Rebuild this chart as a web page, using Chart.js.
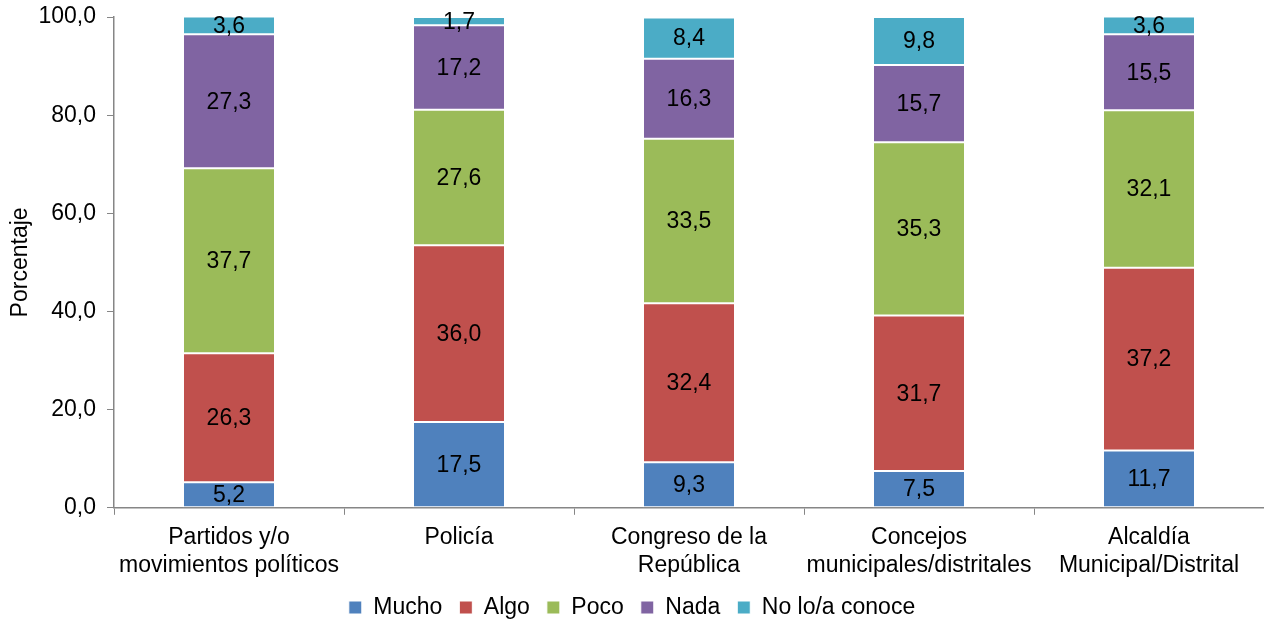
<!DOCTYPE html>
<html>
<head>
<meta charset="utf-8">
<script src="https://cdn.jsdelivr.net/npm/chart.js@4/dist/chart.umd.min.js"></script>
<style>
  html, body { margin: 0; padding: 0; background: #fff; }
  #wrap { width: 1264px; height: 621px; }
</style>
</head>
<body>
<div id="wrap"><canvas id="confChart"></canvas></div>
<script>
const categories = [
    ['Partidos y/o', 'movimientos políticos'],
    'Policía',
    ['Congreso de la', 'República'],
    ['Concejos', 'municipales/distritales'],
    ['Alcaldía', 'Municipal/Distrital']
];
const mucho = [5.2, 17.5, 9.3, 7.5, 11.7];
const algo = [26.3, 36.0, 32.4, 31.7, 37.2];
const poco = [37.7, 27.6, 33.5, 35.3, 32.1];
const nada = [27.3, 17.2, 16.3, 15.7, 15.5];
const noConoce = [3.6, 1.7, 8.4, 9.8, 3.6];
const yTicks = [0, 20, 40, 60, 80, 100];

const FONT = '"Liberation Sans", Arial, sans-serif';
const SIZE = 23;
const fmt = v => v.toFixed(1).replace('.', ',');

// draw the value inside each segment
const segmentLabels = {
    id: 'segmentLabels',
    afterDatasetsDraw(chart) {
        const ctx = chart.ctx;
        ctx.save();
        ctx.font = SIZE + 'px ' + FONT;
        ctx.fillStyle = '#000';
        ctx.textAlign = 'center';
        ctx.textBaseline = 'middle';
        chart.data.datasets.forEach((ds, i) => {
            chart.getDatasetMeta(i).data.forEach((bar, j) => {
                const mid = (bar.y + bar.base) / 2;
                ctx.fillText(fmt(ds.data[j]), bar.x, mid + 1);
            });
        });
        ctx.restore();
    }
};

const ctx = document.getElementById('confChart').getContext('2d');
const confChart = new Chart(ctx, {
    type: 'bar',
    data: {
        labels: categories,
        datasets: [
            { label: 'Mucho', data: mucho, backgroundColor: '#4F81BD' },
            { label: 'Algo', data: algo, backgroundColor: '#C0504D' },
            { label: 'Poco', data: poco, backgroundColor: '#9BBB59' },
            { label: 'Nada', data: nada, backgroundColor: '#8064A2' },
            { label: 'No lo/a conoce', data: noConoce, backgroundColor: '#4BACC6' }
        ].map(d => Object.assign(d, {
            borderColor: '#ffffff',
            borderWidth: 1,
            borderSkipped: false,
            categoryPercentage: 1,
            barPercentage: 0.4
        }))
    },
    options: {
        responsive: true,
        maintainAspectRatio: false,
        animation: false,
        layout: { padding: { top: 1, left: 0, right: 0, bottom: -8 } },
        plugins: {
            legend: {
                position: 'bottom',
                labels: {
                    boxWidth: 13,
                    boxHeight: 13,
                    padding: 17,
                    color: '#000',
                    font: { family: FONT, size: SIZE }
                }
            },
            tooltip: { enabled: false }
        },
        scales: {
            x: {
                stacked: true,
                afterFit: s => { s.height -= 9; },
                grid: {
                    offset: true,
                    drawOnChartArea: false,
                    tickLength: 7,
                    color: '#868686'
                },
                border: { color: '#868686', width: 1.5 },
                ticks: {
                    color: '#000',
                    padding: 9,
                    maxRotation: 0,
                    font: { family: FONT, size: SIZE }
                }
            },
            y: {
                stacked: true,
                min: 0,
                max: 100,
                afterBuildTicks: axis => { axis.ticks = yTicks.map(v => ({ value: v })); },
                afterFit: s => { s.width = 114; s.paddingTop = 17; s.paddingBottom = 17; },
                grid: {
                    drawOnChartArea: false,
                    tickLength: 7,
                    color: '#868686'
                },
                border: { color: '#868686', width: 1.5 },
                ticks: {
                    color: '#000',
                    padding: 11,
                    callback: v => fmt(v),
                    font: { family: FONT, size: SIZE }
                },
                title: {
                    display: true,
                    text: 'Porcentaje',
                    color: '#000',
                    padding: { top: 7, bottom: 0 },
                    font: { family: FONT, size: SIZE }
                }
            }
        }
    },
    plugins: [segmentLabels]
});
</script>
</body>
</html>
